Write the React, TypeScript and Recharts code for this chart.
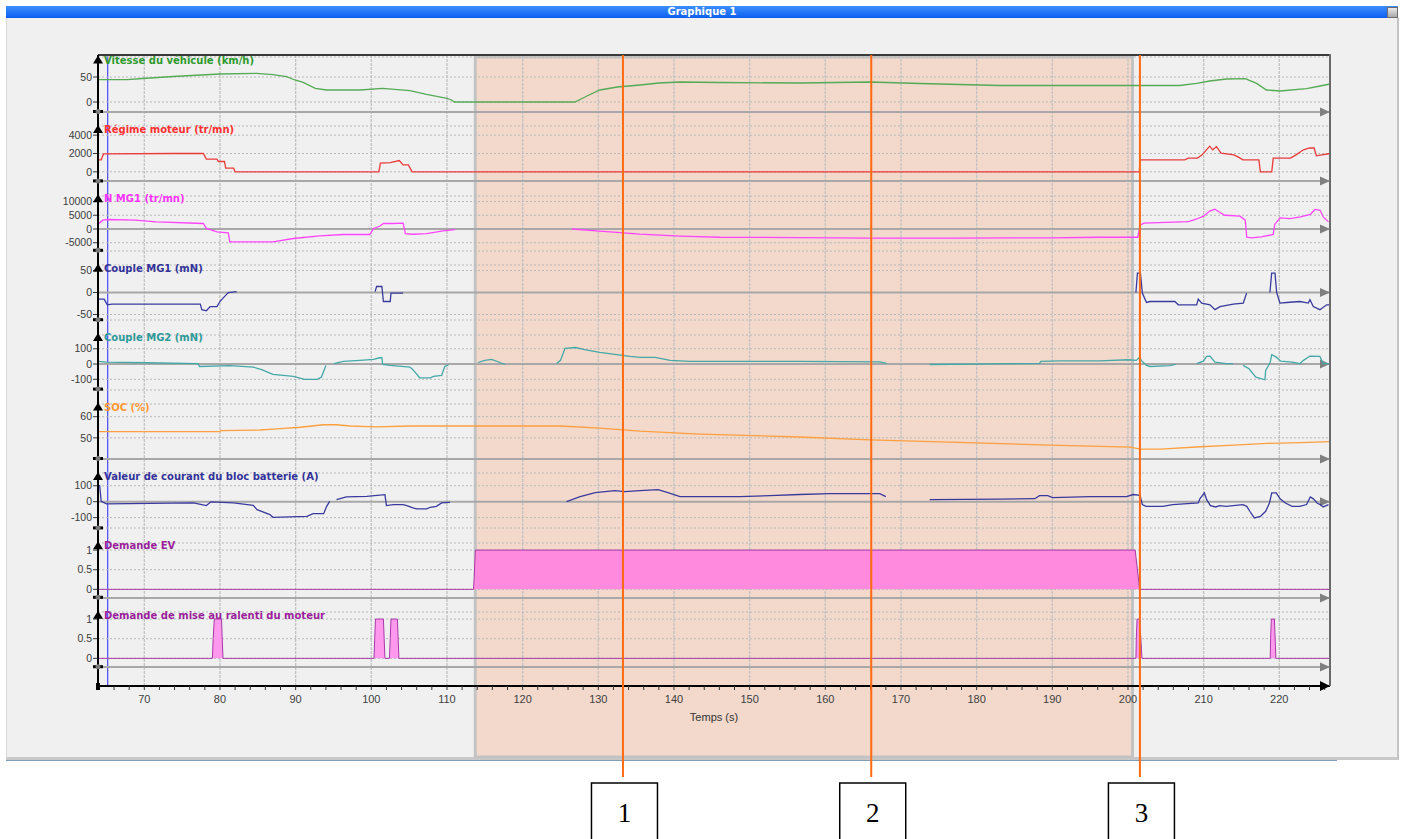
import React from 'react';
import {
  ComposedChart,
  Line,
  Area,
  XAxis,
  YAxis,
  CartesianGrid,
  ReferenceLine,
  ReferenceArea,
} from 'recharts';

type Sample = [number, number | null];

// ---- time axis (s) ----
const T_START = 63.88;
const T_END = 226.7;
const TIME_LABELS = [70, 80, 90, 100, 110, 120, 130, 140, 150, 160, 170, 180, 190, 200, 210, 220];
const TIME_MINOR: number[] = [];
for (let t = 64; t <= 226; t += 2) TIME_MINOR.push(t);

// EV window, cursor and numbered events (s)
const EV_WINDOW: [number, number] = [113.74, 200.6];
const CURSOR_T = 65.16;
const EVENT_TIMES = [133.26, 166.07, 201.58];
const EVENT_LABELS = ['1', '2', '3'];

// ---- recorded signals: [time s, value] (null = no data) ----
const vitesse: Sample[] = [
  [63.88, 44.6], [67.7, 44.6], [69.8, 47], [73.8, 51], [80, 56], [84.85, 57.3], [87, 54.7],
  [88.8, 50.7], [89.9, 44], [91, 39.3], [92.6, 27.3], [94.1, 24], [98.5, 24], [101.5, 27.3],
  [105.1, 22.7], [107.3, 15.3], [110, 7.3], [110.6, 4], [111, 0], [126.9, 0], [128.5, 12],
  [130.2, 24], [132.5, 30], [135.5, 34], [138, 38], [140.8, 40], [146, 39], [156.7, 38],
  [165.9, 40], [172.5, 37], [183, 33], [196.3, 33], [206.8, 33], [209.1, 37.3], [210.8, 42],
  [213, 46], [215.5, 46.7], [217, 37.3], [218.3, 24], [220.1, 22], [223.6, 26.7], [225.4, 32],
  [226.7, 36],
];

const regime: Sample[] = [
  [63.88, 1300], [64.3, 1300], [64.6, 1950], [73.8, 2000], [77.8, 2000], [78.2, 1390],
  [79.6, 1390], [79.8, 1130], [80.6, 1130], [80.75, 400], [81.8, 400], [82, 0], [101, 0],
  [101.2, 950], [102.5, 1000], [103.7, 1230], [104.2, 760], [104.9, 760], [105.4, 0],
  [201.5, 0], [201.6, 1300], [207.5, 1300], [208, 1500], [209.2, 1500], [209.8, 1850],
  [210.8, 2800], [211.2, 2400], [211.7, 2750], [212.3, 2050], [214, 1850], [214.6, 1600],
  [215.2, 1300], [217.3, 1300], [217.5, 0], [219, 0], [219.2, 1500], [221.5, 1500],
  [222.2, 1850], [223.2, 2400], [224, 2600], [224.6, 2600], [224.9, 1750], [226.7, 2000],
];

const nMg1: Sample[] = [
  [63.88, 1750], [64.5, 3200], [65.2, 3450], [68.8, 3200], [71.6, 2600], [77.8, 2000],
  [78.2, 200], [79.6, -1050], [81.1, -1400], [81.3, -4700], [87, -4700], [89.7, -3450],
  [93.2, -2500], [96.3, -2000], [99.8, -2000], [100.3, 200], [101.1, 1000], [101.6, 2000],
  [102.9, 2000], [104.2, 2100], [104.5, -1650], [105.5, -1900], [107.3, -1650], [109.5, -700],
  [111.1, -200], [111.2, null], [126.4, null], [126.5, 0], [130.2, -800], [135.5, -1900],
  [140.8, -2600], [146.1, -3000], [156.6, -3100], [165.9, -3350], [176.4, -3350],
  [189.7, -3200], [196.3, -3000], [201.3, -3000], [201.6, 1400], [202.1, 2100], [208, 2650],
  [209, 3550], [210, 4650], [210.8, 6500], [211.5, 7200], [212.1, 6100], [212.8, 5000],
  [214.8, 4650], [215.5, 3200], [215.7, -3000], [216.3, -3200], [217.6, -2900], [219.2, -2000],
  [219.4, 1650], [220.1, 4050], [221.4, 3800], [222.8, 4400], [224.1, 5300], [224.7, 7100],
  [225.4, 6800], [225.8, 4400], [226.5, 2600],
];

const coupleMg1: Sample[] = [
  [63.88, -15], [64.7, -15], [65.1, -28], [65.7, -26.5], [77.4, -26.5], [77.6, -39],
  [78.2, -41.6], [78.7, -32], [79.6, -32], [80, -20.5], [80.4, -12.8], [81.1, 0], [82.2, 2],
  [82.3, null], [100.4, null], [100.5, 2], [100.7, 13.6], [101.4, 13.6], [101.6, -20.5],
  [102.5, -20.5], [102.6, -1.4], [104.2, -1.4], [104.3, null], [201, null], [201.05, 0],
  [201.25, 44], [201.65, 44], [201.9, -1.4], [202.45, -22.7], [202.9, -20.5], [206.2, -20.5],
  [206.65, -28], [209.08, -28], [209.29, -15], [209.74, -24], [210.84, -28], [211.5, -39],
  [212.16, -32], [213.91, -26.5], [215.24, -24], [215.68, -1.4], [215.8, null], [218.7, null],
  [218.76, 0], [218.99, 44], [219.43, 44], [219.65, 0], [220.08, -24], [220.97, -22.7],
  [222.73, -20.5], [223.83, -24], [224.05, -16.6], [224.49, -32], [225.37, -39], [226.26, -28],
  [226.7, -28],
];

const coupleMg2: Sample[] = [
  [63.88, 17], [65, 12], [70.3, 8.5], [77.1, 2], [77.3, -16], [81.3, -11], [84.4, -20],
  [85.5, -37], [87, -68], [89.7, -81], [91.2, -101], [92.8, -101], [93.4, -86], [94, -9],
  [94.05, null], [95, null], [95.05, 2], [96.3, 17], [98.5, 23.5], [100.3, 30], [101.1, 41],
  [101.4, 41], [101.5, -3], [102.5, -9], [105.1, -20], [105.5, -37], [106.4, -90], [107.8, -90],
  [108.2, -81], [109.3, -75], [109.7, -16], [110.2, -5], [110.3, null], [114, null], [114.1, 10],
  [115, 24], [115.9, 30], [117, 10], [117.7, -3], [117.8, null], [124.4, null], [124.5, 4],
  [125, 24], [125.6, 102], [127, 108], [128.2, 95], [130.2, 76], [132.2, 63], [134.2, 50],
  [135.5, 43], [137.5, 43], [139.5, 24], [142.1, 17], [156.6, 17], [167.2, 14], [168.1, 4],
  [168.2, null], [173.7, null], [173.8, -3], [188.3, 4], [188.5, 17], [191, 20], [196.3, 20],
  [200, 28], [201.1, 24], [201.55, 45], [201.75, 24], [202.45, -9], [202.9, -16], [205.5, -11],
  [206.3, -3], [206.4, null], [209, null], [209.08, 2], [209.96, 19], [210.4, 50], [210.84, 52],
  [211.5, 12], [213, 2], [213.9, 2], [214, null], [215.1, null], [215.2, -9], [216, -31],
  [216.9, -86], [218.1, -103], [218.2, -42], [218.5, -16], [218.8, 12], [219, 61], [219.6, 45],
  [220.2, 19], [221.7, 12], [222.7, 2], [223.2, 24], [224.05, 52], [225.37, 50], [225.8, 2],
  [226.7, 2],
];

const soc: Sample[] = [
  [63.88, 52.9], [80, 52.9], [80.1, 53.4], [85.3, 53.7], [87.5, 54.2], [90.6, 55], [93.7, 56.2],
  [95.4, 56.2], [97.2, 55.6], [100.7, 55.2], [105.1, 55.6], [113.9, 55.6], [125, 55.6],
  [130.2, 54.6], [135.5, 53.2], [143.4, 51.8], [156.6, 50.4], [165.9, 49], [176.4, 48],
  [189.7, 46.6], [200.3, 45.6], [201.6, 44.7], [204.3, 44.7], [209.6, 45.8], [214, 46.6],
  [218.4, 47.4], [222.8, 47.7], [226.7, 48.2],
];

const courant: Sample[] = [
  [63.88, 101], [64.1, 101], [64.3, 2.5], [65, -14], [76.5, -8], [77.6, -18], [78.2, -24.5],
  [78.8, -1], [81.8, -8], [84.4, -22.6], [84.9, -50], [86.6, -81], [87, -98], [91.5, -92],
  [92.3, -75], [93.7, -75], [94.1, -29], [94.5, 2.5], [94.6, null], [95.3, null], [95.4, 13],
  [96.7, 30], [99.4, 34], [101.8, 44.5], [102, -24.5], [102.9, -18], [104.2, -18], [104.7, -24.5],
  [105.5, -39], [106, -45], [107.3, -45], [107.8, -35], [108.6, -29], [109.3, -8], [110.4, -4],
  [110.5, null], [125.7, null], [125.8, 0], [127.6, 32], [129.6, 57], [132.2, 70], [133.5, 63],
  [135.5, 70], [137.9, 76], [139.2, 57], [140.8, 32], [148.7, 32], [152.7, 38], [156.6, 45],
  [160.6, 51], [167.2, 51], [168, 32], [168.1, null], [173.7, null], [173.8, 13], [183.1, 16],
  [187.7, 19], [188.3, 38], [189.4, 38], [190, 26], [195, 32], [199.8, 32], [200.7, 45],
  [201.6, 40], [201.9, -18], [202.4, -29], [204.6, -29], [205.9, -18], [209.3, -8], [209.5, 18],
  [210.1, 55], [210.4, 13], [210.9, -24.5], [211.6, -33], [212.1, -24.5], [213, -29],
  [213.9, -24.5], [215.2, -18], [215.7, -29], [216.1, -60], [216.7, -102], [217.5, -92],
  [218.2, -60], [218.7, -8], [219, 55], [219.6, 55], [220.1, 18], [220.8, -8], [221.7, -29],
  [222.7, -29], [223.6, -18], [224.1, 30], [224.5, 18], [225, -8], [225.4, -18], [225.8, -33],
  [226.5, -18],
];

const demandeEv: Sample[] = [
  [63.88, 0], [113.5, 0], [113.6, 0.3], [113.75, 1], [200.95, 1], [201.55, 0], [226.7, 0],
];

const demandeRalenti: Sample[] = [
  [63.88, 0.3], [63.95, 0], [79, 0], [79.1, 0.5], [79.25, 1], [80.2, 1], [80.3, 0.5], [80.4, 0],
  [100.35, 0], [100.45, 0.5], [100.55, 1], [101.6, 1], [101.7, 0.5], [101.8, 0], [102.4, 0],
  [102.5, 0.5], [102.6, 1], [103.45, 1], [103.55, 0.5], [103.65, 0], [201.05, 0], [201.1, 0.5],
  [201.2, 1], [201.55, 1], [201.7, 0.5], [201.85, 0], [218.8, 0], [218.85, 0.5], [218.95, 1],
  [219.35, 1], [219.45, 0.5], [219.55, 0], [226.7, 0],
];

// ---- y tick values per track ----
const vitesseTicks = [0, 50];
const regimeTicks = [0, 2000, 4000];
const nMg1Ticks = [-5000, 0, 5000, 10000];
const mg1Ticks = [-50, 0, 50];
const mg2Ticks = [-100, 0, 100];
const socTicks = [50, 60];
const courantTicks = [-100, 0, 100];
const demandeTicks = [0, 0.5, 1];

// ---- layout ----
const PAGE_W = 1407;
const PAGE_H = 839;
const PLOT_LEFT = 98;
const PLOT_RIGHT = 1330;
const MARGIN_R = PAGE_W - PLOT_RIGHT;
const AXIS_W = 68;
const PANEL_TOP = 57;
const PANEL_STEP = 69.4;
const PANEL_H = 55;
const PAD = 8;
const X_AXIS_Y = 686;

const FONT = '"Liberation Sans", Arial, sans-serif';
const TITLE_FONT = '"DejaVu Sans", Verdana, sans-serif';

type Track = {
  title: string;
  titleColor: string;
  color: string;
  fill?: string;
  data: Sample[];
  domain: [number, number];
  ticks: number[];
  axisAt: number;
};

const TRACKS: Track[] = [
  { title: 'Vitesse du véhicule (km/h)', titleColor: '#2e9a2e', color: '#55ab55', data: vitesse, domain: [-20, 90], ticks: vitesseTicks, axisAt: -20 },
  { title: 'Régime moteur (tr/mn)', titleColor: '#ff2f2f', color: '#ea3a3a', data: regime, domain: [-1000, 5000], ticks: regimeTicks, axisAt: -1000 },
  { title: 'N MG1 (tr/mn)', titleColor: '#ff33ff', color: '#ff44ff', data: nMg1, domain: [-8000, 12000], ticks: nMg1Ticks, axisAt: 0 },
  { title: 'Couple MG1 (mN)', titleColor: '#333399', color: '#3a3a9e', data: coupleMg1, domain: [-62.5, 62.5], ticks: mg1Ticks, axisAt: 0 },
  { title: 'Couple MG2 (mN)', titleColor: '#2f9999', color: '#45a8a8', data: coupleMg2, domain: [-170, 190], ticks: mg2Ticks, axisAt: 0 },
  { title: 'SOC (%)', titleColor: '#ff9933', color: '#ff9f3f', data: soc, domain: [40, 66], ticks: socTicks, axisAt: 40 },
  { title: 'Valeur de courant du bloc batterie (A)', titleColor: '#333399', color: '#3a3a9e', data: courant, domain: [-165, 180], ticks: courantTicks, axisAt: 0 },
  { title: 'Demande EV', titleColor: '#9a1f9a', color: '#a83aa8', fill: '#ff8ade', data: demandeEv, domain: [-0.22, 1.18], ticks: demandeTicks, axisAt: -0.22 },
  { title: 'Demande de mise au ralenti du moteur', titleColor: '#9a1f9a', color: '#a83aa8', fill: '#ff99ee', data: demandeRalenti, domain: [-0.22, 1.18], ticks: demandeTicks, axisAt: -0.22 },
];

// two-point span that pins the shared time scale of the overlay layers
const timeSpan = [
  { t: T_START, u: 0 },
  { t: T_END, u: 1 },
];

// grey arrow head at the right end of each track's base line
const axisArrow = (props: any) => {
  const vb = props && props.viewBox;
  if (!vb) return null;
  const xe = vb.x + vb.width;
  const y = vb.y;
  return <polygon points={`${xe - 10},${y - 4.5} ${xe},${y} ${xe - 10},${y + 4.5}`} fill="#808080" />;
};

// numbered box hanging under an event line
const eventBox = (text: string) => (props: any) => {
  const vb = props && props.viewBox;
  if (!vb) return null;
  const cx = vb.x + 1.5;
  const top = vb.y + vb.height + 6;
  return (
    <g>
      <rect x={cx - 33} y={top} width={66} height={70} fill="#ffffff" stroke="#000000" strokeWidth={1.5} />
      <text x={cx} y={top + 39} textAnchor="middle" fontFamily='"Liberation Serif", "Times New Roman", serif' fontSize={27} fill="#000">
        {text}
      </text>
    </g>
  );
};

const TimeTick = (props: any) => {
  const { x, y, payload } = props;
  if (payload.value % 10 !== 0) return <g />;
  return (
    <text x={x} y={y} dy="0.71em" textAnchor="middle" fontSize={11} fill="#404040" fontFamily={FONT}>
      {payload.value}
    </text>
  );
};

function TrackChart({ track, index }: { track: Track; index: number }) {
  const top = PANEL_TOP + PANEL_STEP * index;
  const rows = track.data.map(([t, v]) => ({ t, v }));
  const h = PANEL_H + 2 * PAD;
  return (
    <div style={{ position: 'absolute', left: 0, top: top - PAD, width: PAGE_W, height: h }}>
      <ComposedChart
        width={PAGE_W}
        height={h}
        data={rows}
        margin={{ top: PAD, right: MARGIN_R, bottom: PAD, left: PLOT_LEFT - AXIS_W }}
      >
        <CartesianGrid vertical={false} stroke="#b8b8b8" strokeDasharray="2 2" />
        <XAxis
          dataKey="t"
          type="number"
          domain={[T_START, T_END]}
          allowDataOverflow
          ticks={TIME_LABELS}
          height={0}
          tick={false}
          tickLine={false}
          axisLine={false}
        />
        <YAxis
          type="number"
          domain={track.domain}
          allowDataOverflow
          ticks={track.ticks}
          interval={0}
          width={AXIS_W}
          axisLine={false}
          tickSize={5}
          tickMargin={1}
          tickLine={{ stroke: '#3a3a3a' }}
          tick={{ fontSize: 10.5, fill: '#3c3c3c', fontFamily: FONT }}
        />
        <ReferenceLine y={track.axisAt} stroke="#a8a8a8" strokeWidth={2} label={axisArrow} />
        {track.fill ? (
          <Area
            dataKey="v"
            type="linear"
            stroke={track.color}
            strokeWidth={1}
            fill={track.fill}
            fillOpacity={1}
            baseValue={0}
            dot={false}
            activeDot={false}
            isAnimationActive={false}
          />
        ) : (
          <Line
            dataKey="v"
            type="linear"
            stroke={track.color}
            strokeWidth={1.3}
            dot={false}
            activeDot={false}
            isAnimationActive={false}
          />
        )}
      </ComposedChart>
    </div>
  );
}

export default function App() {
  const gridTop = 47;
  const gridH = X_AXIS_Y - gridTop + 8;
  const axisTop = 600;
  const axisH = 140;
  const rectTop = 50;
  const rectH = 715;
  const evTop = 47;
  const evH = PAGE_H - evTop;

  return (
    <div
      style={{
        position: 'absolute',
        left: 0,
        top: 0,
        width: PAGE_W,
        height: PAGE_H,
        overflow: 'hidden',
        background: '#ffffff',
        fontFamily: FONT,
      }}
    >
      {/* window title bar */}
      <div
        style={{
          position: 'absolute',
          left: 6,
          top: 6,
          width: 1392,
          height: 12,
          background: 'linear-gradient(#3d8ffc, #0d5ff0)',
          color: '#fff',
          fontFamily: TITLE_FONT,
          fontWeight: 'bold',
          fontSize: 10,
          lineHeight: '12px',
          textAlign: 'center',
        }}
      >
        Graphique 1
      </div>
      <div
        style={{
          position: 'absolute',
          left: 1387,
          top: 7,
          width: 9,
          height: 9,
          background: 'linear-gradient(#e8e8e8, #a8a8a8)',
          border: '1px solid #6d6d6d',
        }}
      />
      {/* window body */}
      <div
        style={{
          position: 'absolute',
          left: 6,
          top: 18,
          width: 1390,
          height: 739,
          background: '#f0f0f0',
          borderLeft: '1px solid #d8d8d8',
          borderRight: '2px solid #c4c4c4',
          borderBottom: '3px solid #c8c8c8',
        }}
      />
      <div style={{ position: 'absolute', left: 6, top: 760, width: 1331, height: 1, background: '#7f9db9' }} />

      {/* EV window shading */}
      <div style={{ position: 'absolute', left: 0, top: rectTop, width: PAGE_W, height: rectH }}>
        <ComposedChart width={PAGE_W} height={rectH} data={timeSpan} margin={{ top: 7, right: MARGIN_R, bottom: 8, left: PLOT_LEFT }}>
          <XAxis dataKey="t" type="number" domain={[T_START, T_END]} allowDataOverflow height={0} tick={false} tickLine={false} axisLine={false} />
          <YAxis hide type="number" domain={[0, 1]} />
          <ReferenceArea x1={EV_WINDOW[0]} x2={EV_WINDOW[1]} y1={0} y2={1} fill="#f2d9cb" fillOpacity={1} stroke="#c3c3c3" strokeWidth={3} />
          <Line dataKey="u" stroke="none" dot={false} activeDot={false} isAnimationActive={false} />
        </ComposedChart>
      </div>

      {/* vertical time grid and cursor */}
      <div style={{ position: 'absolute', left: 0, top: gridTop, width: PAGE_W, height: gridH }}>
        <ComposedChart width={PAGE_W} height={gridH} data={timeSpan} margin={{ top: 8, right: MARGIN_R, bottom: 8, left: PLOT_LEFT }}>
          <XAxis dataKey="t" type="number" domain={[T_START, T_END]} allowDataOverflow height={0} tick={false} tickLine={false} axisLine={false} />
          <YAxis hide type="number" domain={[0, 1]} />
          <Line dataKey="u" stroke="none" dot={false} activeDot={false} isAnimationActive={false} />
          {TIME_LABELS.map((t) => (
            <ReferenceLine key={'g' + t} x={t} stroke="#c2c2c2" strokeWidth={1.3} strokeDasharray="3 1" />
          ))}
          <ReferenceLine x={CURSOR_T} stroke="#4848ff" strokeWidth={1.2} />
        </ComposedChart>
      </div>

      {/* time axis */}
      <div style={{ position: 'absolute', left: 0, top: axisTop, width: PAGE_W, height: axisH }}>
        <ComposedChart width={PAGE_W} height={axisH} data={timeSpan} margin={{ top: 0, right: MARGIN_R, bottom: axisTop + axisH - X_AXIS_Y - 45, left: PLOT_LEFT }}>
          <XAxis
            dataKey="t"
            type="number"
            domain={[T_START, T_END]}
            allowDataOverflow
            ticks={TIME_MINOR}
            interval={0}
            height={45}
            tickSize={4}
            tickMargin={5}
            tickLine={{ stroke: '#333' }}
            axisLine={{ stroke: '#000', strokeWidth: 2 }}
            tick={TimeTick}
            label={{ value: 'Temps (s)', position: 'insideBottom', offset: 10, fontSize: 11, fill: '#333', fontFamily: FONT }}
          />
          <YAxis hide type="number" domain={[0, 1]} />
          <Line dataKey="u" stroke="none" dot={false} activeDot={false} isAnimationActive={false} />
        </ComposedChart>
      </div>

      {TRACKS.map((tr, i) => (
        <TrackChart key={tr.title} track={tr} index={i} />
      ))}

      {/* plot frame */}
      <div style={{ position: 'absolute', left: PLOT_LEFT, top: 54, width: PLOT_RIGHT - PLOT_LEFT, height: 2, background: '#3a3a3a' }} />
      <div style={{ position: 'absolute', left: PLOT_RIGHT - 1, top: 54, width: 2, height: X_AXIS_Y - 54, background: '#6a6a6a' }} />
      <div style={{ position: 'absolute', left: PLOT_LEFT - 1, top: 55, width: 2, height: X_AXIS_Y - 52, background: '#000' }} />

      {/* track titles */}
      {TRACKS.map((tr, i) => (
        <div
          key={'t' + i}
          style={{
            position: 'absolute',
            left: 104,
            top: PANEL_TOP + PANEL_STEP * i - 2.5,
            fontFamily: TITLE_FONT,
            fontWeight: 'bold',
            fontSize: 10,
            lineHeight: '12px',
            color: tr.titleColor,
            whiteSpace: 'nowrap',
          }}
        >
          {tr.title}
        </div>
      ))}

      {/* left axis markers */}
      <svg style={{ position: 'absolute', left: 0, top: 0 }} width={PAGE_W} height={PAGE_H}>
        {TRACKS.map((tr, i) => {
          const top = PANEL_TOP + PANEL_STEP * i;
          const bottom = top + PANEL_H;
          return (
            <g key={'m' + i}>
              <polygon points={`${PLOT_LEFT - 5},${top + 6.5} ${PLOT_LEFT},${top - 1.5} ${PLOT_LEFT + 5},${top + 6.5}`} fill="#000" />
              <rect x={PLOT_LEFT - 5} y={bottom - 2} width={10} height={3} fill="#000" />
              <circle cx={PLOT_LEFT} cy={bottom - 0.5} r={2.5} fill="#7a7a7a" />
            </g>
          );
        })}
        <polygon points={`${PLOT_RIGHT - 10},${X_AXIS_Y - 5} ${PLOT_RIGHT},${X_AXIS_Y} ${PLOT_RIGHT - 10},${X_AXIS_Y + 5}`} fill="#000" />
        <rect x={PLOT_LEFT - 2} y={X_AXIS_Y - 3} width={4} height={7} fill="#000" />
      </svg>

      {/* numbered event lines */}
      <div style={{ position: 'absolute', left: 0, top: evTop, width: PAGE_W, height: evH }}>
        <ComposedChart width={PAGE_W} height={evH} data={timeSpan} margin={{ top: 8, right: MARGIN_R, bottom: PAGE_H - 777, left: PLOT_LEFT }}>
          <XAxis dataKey="t" type="number" domain={[T_START, T_END]} allowDataOverflow height={0} tick={false} tickLine={false} axisLine={false} />
          <YAxis hide type="number" domain={[0, 1]} />
          <Line dataKey="u" stroke="none" dot={false} activeDot={false} isAnimationActive={false} />
          {EVENT_TIMES.map((t, i) => (
            <ReferenceLine key={'e' + i} x={t} stroke="#ff6a13" strokeWidth={2} label={eventBox(EVENT_LABELS[i])} />
          ))}
        </ComposedChart>
      </div>
    </div>
  );
}
